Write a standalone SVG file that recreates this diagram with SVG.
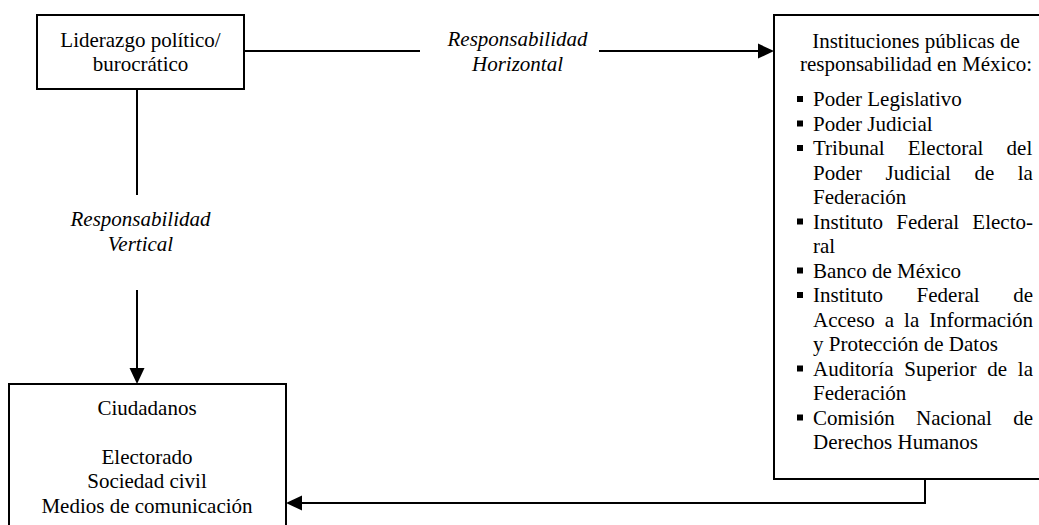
<svg xmlns="http://www.w3.org/2000/svg" width="1039" height="525" viewBox="0 0 1039 525">
<style>
.box{fill:#fff;stroke:#000;stroke-width:2}
.t{font-family:"Liberation Serif","Times New Roman",serif;font-size:21px;fill:#000}
.c{text-anchor:middle}
.i{font-style:italic}
.ln{fill:none;stroke:#000;stroke-width:2}
.b{fill:#000}
</style>
<defs>
<marker id="ah" markerUnits="userSpaceOnUse" markerWidth="20" markerHeight="20" refX="6" refY="8" orient="auto">
<path d="M0,0.5 L16,8 L0,15.5 z" fill="#000"/>
</marker>
</defs>
<g id="connectors">
<line class="ln" x1="244" y1="51" x2="420" y2="51"/>
<line class="ln" x1="599" y1="51" x2="764" y2="51" marker-end="url(#ah)"/>
<line class="ln" x1="137" y1="89" x2="137" y2="195"/>
<line class="ln" x1="137" y1="290" x2="137" y2="374" marker-end="url(#ah)"/>
<polyline class="ln" points="925,479 925,503 296,503" marker-end="url(#ah)"/>
<text class="t c i" x="517.5" y="46">Responsabilidad</text>
<text class="t c i" x="517.5" y="70.5">Horizontal</text>
<text class="t c i" x="140.5" y="226">Responsabilidad</text>
<text class="t c i" x="140.5" y="250.5">Vertical</text>
</g>
<g id="liderazgo">
<rect class="box" x="37" y="15" width="207" height="74"/>
<text class="t c" x="140.5" y="47">Liderazgo político/</text>
<text class="t c" x="140.5" y="70.5">burocrático</text>
</g>
<g id="instituciones">
<rect class="box" x="774" y="15" width="290" height="464"/>
<text class="t c" x="916" y="48">Instituciones públicas de</text>
<text class="t c" x="916" y="70.5">responsabilidad en México:</text>
<rect class="b" x="797" y="96" width="6" height="6"/>
<text class="t" x="813" y="106">Poder Legislativo</text>
<rect class="b" x="797" y="120.5" width="6" height="6"/>
<text class="t" x="813" y="130.5">Poder Judicial</text>
<rect class="b" x="797" y="145" width="6" height="6"/>
<text class="t" x="813" y="155" word-spacing="17.85">Tribunal Electoral del</text>
<text class="t" x="813" y="179.5" word-spacing="18.3">Poder Judicial de la</text>
<text class="t" x="813" y="204">Federación</text>
<rect class="b" x="797" y="218.5" width="6" height="6"/>
<text class="t" x="813" y="228.5" word-spacing="7.95">Instituto Federal Electo-</text>
<text class="t" x="813" y="253">ral</text>
<rect class="b" x="797" y="267.5" width="6" height="6"/>
<text class="t" x="813" y="277.5">Banco de México</text>
<rect class="b" x="797" y="292" width="6" height="6"/>
<text class="t" x="813" y="302" word-spacing="28.35">Instituto Federal de</text>
<text class="t" x="813" y="326.5" word-spacing="4.72">Acceso a la Información</text>
<text class="t" x="813" y="351">y Protección de Datos</text>
<rect class="b" x="797" y="365.5" width="6" height="6"/>
<text class="t" x="813" y="375.5" word-spacing="5.48">Auditoría Superior de la</text>
<text class="t" x="813" y="400">Federación</text>
<rect class="b" x="797" y="414.5" width="6" height="6"/>
<text class="t" x="813" y="424.5" word-spacing="16.1">Comisión Nacional de</text>
<text class="t" x="813" y="449">Derechos Humanos</text>
</g>
<g id="ciudadanos">
<rect class="box" x="9" y="384" width="277" height="160"/>
<text class="t c" x="147" y="415">Ciudadanos</text>
<text class="t c" x="147" y="464">Electorado</text>
<text class="t c" x="147" y="488">Sociedad civil</text>
<text class="t c" x="147" y="512.5">Medios de comunicación</text>
</g>
</svg>
